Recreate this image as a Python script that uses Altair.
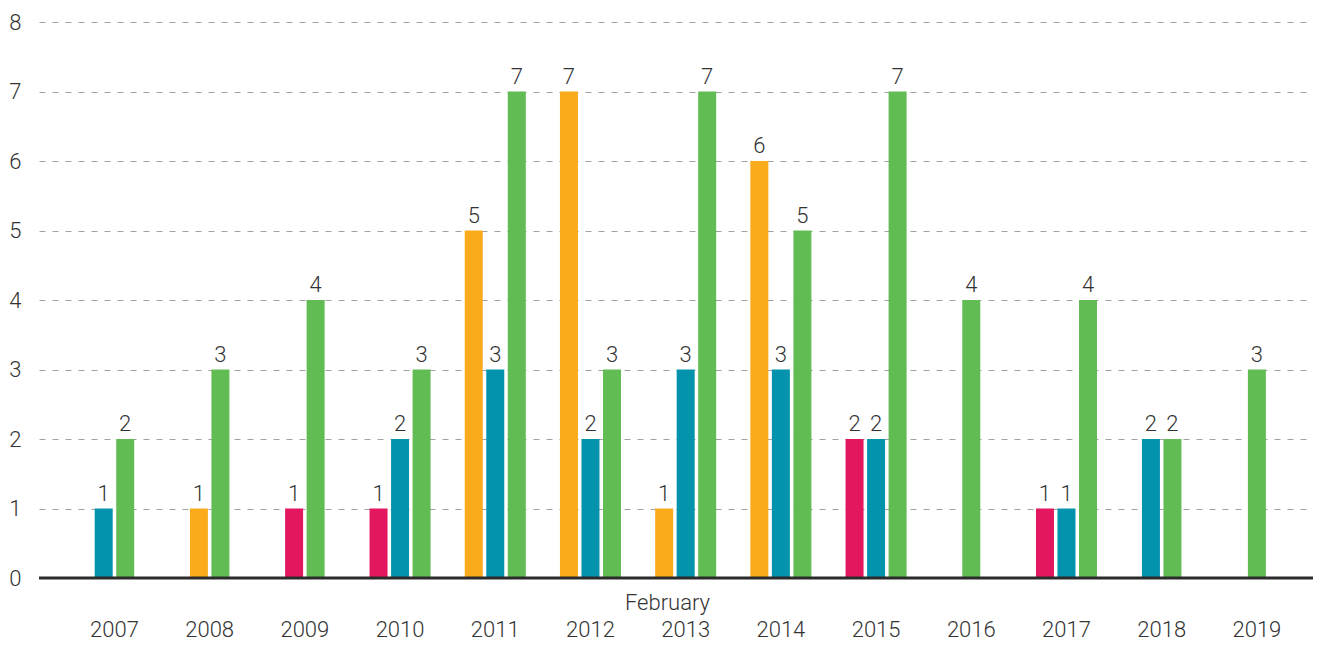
import altair as alt
import pandas as pd

years = [2007, 2008, 2009, 2010, 2011, 2012, 2013, 2014, 2015, 2016, 2017, 2018, 2019]
series_names = ["Series 1", "Series 2", "Series 3", "Series 4"]
series_colors = ["#E3175F", "#F9AB1C", "#0393AC", "#62BC54"]
s1 = [None, None, 1, 1, None, None, None, None, 2, None, 1, None, None]
s2 = [None, 1, None, None, 5, 7, 1, 6, None, None, None, None, None]
s3 = [1, None, None, 2, 3, 2, 3, 3, 2, None, 1, 2, None]
s4 = [2, 3, 4, 3, 7, 3, 7, 5, 7, 4, 4, 2, 3]
y_ticks = [0, 1, 2, 3, 4, 5, 6, 7, 8]

series_values = [s1, s2, s3, s4]
rows = []
for i, yr in enumerate(years):
    present = [(name, vals[i]) for name, vals in zip(series_names, series_values) if vals[i] is not None]
    n = len(present)
    for k, (name, v) in enumerate(present):
        slot = k - (n - 1) / 2
        rows.append({"year": str(yr), "series": name, "value": v, "slot": f"{slot:.1f}"})
df = pd.DataFrame(rows)

FONT = "Roboto"
FW = 300
FS = 22
TXT = "#333333"
W, H = 1274, 556
slot_domain = ["-1.0", "-0.5", "0.0", "0.5", "1.0"]

x_enc = alt.X(
    "year:N",
    sort=[str(y) for y in years],
    scale=alt.Scale(paddingInner=0, paddingOuter=0.191, align=0.766),
    axis=alt.Axis(
        title="February",
        titleFont=FONT, titleFontSize=FS, titleFontWeight=FW, titleColor=TXT,
        titleY=31, titleX=628, titleAlign="center", titleBaseline="alphabetic",
        labelFont=FONT, labelFontSize=FS, labelFontWeight=FW, labelColor=TXT,
        labelPadding=58, labelBaseline="alphabetic", labelAngle=0,
        domain=False, ticks=False, grid=False,
    ),
)
xoff_enc = alt.XOffset(
    "slot:N",
    scale=alt.Scale(domain=slot_domain, range=[20.7, 74.5], paddingInner=0, paddingOuter=0),
)
y_enc = alt.Y(
    "value:Q",
    scale=alt.Scale(domain=[0, 8], nice=False),
    axis=alt.Axis(
        title=None, values=y_ticks, format="d",
        labelFont=FONT, labelFontSize=FS, labelFontWeight=FW, labelColor=TXT, labelPadding=18,
        domain=False, ticks=False, grid=True,
        gridColor="#A0A0A0", gridDash=[6, 7], gridWidth=1,
    ),
)
color_enc = alt.Color(
    "series:N",
    scale=alt.Scale(domain=series_names, range=series_colors),
    legend=None,
)

base = alt.Chart(df)
bars = base.mark_bar(width=18).encode(x=x_enc, xOffset=xoff_enc, y=y_enc, color=color_enc)
labels = base.mark_text(
    dy=-8, baseline="alphabetic", font=FONT, fontSize=FS, fontWeight=FW, color=TXT
).encode(x=x_enc, xOffset=xoff_enc, y=alt.Y("value:Q"), text=alt.Text("value:Q", format="d"))

baseline = alt.Chart(pd.DataFrame({"y": [0]})).mark_rule(color="#2B2B2B", strokeWidth=3).encode(
    y=alt.Y("y:Q"), x=alt.value(0), x2=alt.value(W)
)

chart = (
    alt.layer(bars, labels, baseline)
    .properties(
        width=W, height=H,
        background="white",
        autosize=alt.AutoSizeParams(type="none"),
        padding={"left": 31, "top": 14, "right": 1, "bottom": 63},
    )
    .configure_view(strokeWidth=0, stroke="transparent")
)

chart.save("out.html", embed_options={"renderer": "svg", "actions": False})
